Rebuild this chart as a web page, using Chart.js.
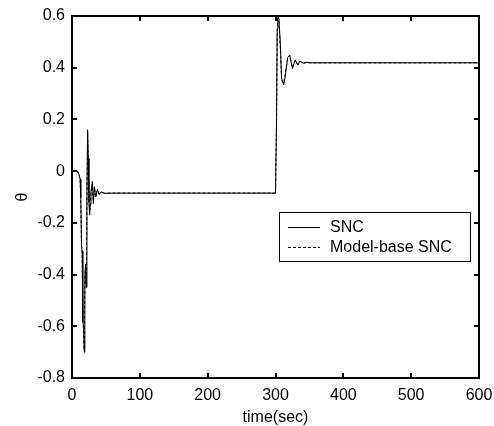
<!DOCTYPE html>
<html>
<head>
<meta charset="utf-8">
<script src="https://cdn.jsdelivr.net/npm/chart.js@4/dist/chart.umd.min.js"></script>
<style>
  html, body { margin: 0; padding: 0; background: #fff; }
  canvas { display: block; }
</style>
</head>
<body>
<canvas id="c" width="494" height="426"></canvas>
<script>
// time axis (sec) and theta response
const timeSnc = [0, 8, 10, 11, 12, 13, 14, 15, 16, 17, 18, 19, 20, 21, 22, 23, 24, 25, 26, 27, 28, 30, 31.5, 33, 35, 37.5, 40, 43, 48, 60, 150, 250, 300, 301.5, 302.5, 303.5, 305, 307, 309, 312, 314, 318, 321, 325, 329, 333, 336, 341, 346, 352, 400, 500, 600];
const thetaSnc = [0, 0, -0.01, -0.02, -0.03, -0.10, -0.29, -0.31, -0.58, -0.60, -0.70, -0.40, -0.36, -0.45, -0.10, 0.16, 0.05, -0.12, -0.17, -0.13, -0.08, -0.04, -0.125, -0.06, -0.10, -0.07, -0.09, -0.08, -0.086, -0.085, -0.085, -0.085, -0.085, 0.20, 0.55, 0.60, 0.59, 0.50, 0.36, 0.333, 0.36, 0.44, 0.449, 0.397, 0.43, 0.41, 0.426, 0.417, 0.421, 0.419, 0.419, 0.419, 0.419];

const timeModel = [0, 8, 10, 11, 12, 13, 14, 15, 16, 17, 18, 19, 20, 21, 22, 23, 24, 25, 26, 27, 28, 30, 31.5, 33, 35, 37.5, 40, 43, 48, 60, 150, 250, 300, 301.5, 302.5, 303.5, 305, 307, 309, 312, 314, 318, 321, 325, 329, 333, 336, 341, 346, 352, 400, 500, 600];
const thetaModel = [0, 0, -0.01, -0.02, -0.04, -0.12, -0.28, -0.32, -0.57, -0.62, -0.69, -0.42, -0.37, -0.44, -0.12, 0.15, 0.04, -0.11, -0.16, -0.12, -0.08, -0.05, -0.12, -0.065, -0.095, -0.075, -0.088, -0.082, -0.085, -0.085, -0.085, -0.085, -0.085, 0.18, 0.53, 0.60, 0.585, 0.48, 0.35, 0.34, 0.37, 0.44, 0.447, 0.40, 0.428, 0.412, 0.424, 0.418, 0.42, 0.419, 0.419, 0.419, 0.419];

const xTicks = [0, 100, 200, 300, 400, 500, 600];
const yTicks = [0.6, 0.4, 0.2, 0, -0.2, -0.4, -0.6, -0.8];
const seriesNames = ['SNC', 'Model-base SNC'];

const FONT = '"Liberation Sans", Arial, Helvetica, sans-serif';

function pts(t, v) { return t.map((x, i) => ({ x: x, y: v[i] })); }

// box around plot area with inward ticks on all four sides (matlab style)
const boxPlugin = {
  id: 'box',
  afterDraw(chart) {
    const ctx = chart.ctx, a = chart.chartArea;
    const xs = chart.scales.x, ys = chart.scales.y;
    ctx.save();
    ctx.strokeStyle = '#000';
    ctx.lineWidth = 2;
    ctx.strokeRect(a.left, a.top, a.right - a.left, a.bottom - a.top);
    ctx.beginPath();
    xTicks.forEach(v => {
      const p = Math.round(xs.getPixelForValue(v));
      ctx.moveTo(p, a.bottom); ctx.lineTo(p, a.bottom - 5);
      ctx.moveTo(p, a.top); ctx.lineTo(p, a.top + 5);
    });
    yTicks.forEach(v => {
      const p = Math.round(ys.getPixelForValue(v));
      ctx.moveTo(a.left, p); ctx.lineTo(a.left + 5, p);
      ctx.moveTo(a.right, p); ctx.lineTo(a.right - 5, p);
    });
    ctx.stroke();

    // legend
    const lx = a.left + 207, ly = a.top + 196, lw = 191, lh = 49;
    ctx.fillStyle = '#fff';
    ctx.fillRect(lx, ly, lw, lh);
    ctx.lineWidth = 1;
    ctx.strokeRect(lx + 0.5, ly + 0.5, lw, lh);
    ctx.font = '16px ' + FONT;
    ctx.textBaseline = 'middle';
    ctx.fillStyle = '#000';
    chart.data.datasets.forEach((ds, i) => {
      const y = Math.round(ly + 14.5 + i * 20.5) + 0.5;
      ctx.setLineDash(ds.borderDash || []);
      ctx.beginPath();
      ctx.moveTo(lx + 9, y); ctx.lineTo(lx + 41, y);
      ctx.stroke();
      ctx.setLineDash([]);
      ctx.fillText(ds.label, lx + 51, y);
    });
    ctx.restore();
  }
};

new Chart(document.getElementById('c'), {
  type: 'line',
  data: {
    datasets: [
      { label: seriesNames[0], data: pts(timeSnc, thetaSnc), borderColor: '#000', borderWidth: 1, pointRadius: 0, tension: 0 },
      { label: seriesNames[1], data: pts(timeModel, thetaModel), borderColor: '#000', borderWidth: 1, borderDash: [3, 2], pointRadius: 0, tension: 0 }
    ]
  },
  options: {
    responsive: false,
    animation: false,
    devicePixelRatio: 1,
    layout: { padding: { top: 16, right: 15, left: 0, bottom: 0 } },
    plugins: { legend: { display: false }, tooltip: { enabled: false } },
    scales: {
      x: {
        type: 'linear', min: 0, max: 600,
        afterBuildTicks: s => { s.ticks = xTicks.map(v => ({ value: v })); },
        afterFit: s => { s.height = 48; s.paddingLeft = 0; s.paddingRight = 0; },
        grid: { display: false, drawTicks: false },
        border: { display: false },
        ticks: { color: '#000', font: { family: FONT, size: 16 }, padding: 8, maxRotation: 0 },
        title: { display: true, text: 'time(sec)', color: '#000', font: { family: FONT, size: 16, lineHeight: 1.1 }, padding: { top: 0, bottom: 0 } }
      },
      y: {
        type: 'linear', min: -0.8, max: 0.6,
        afterBuildTicks: s => { s.ticks = yTicks.map(v => ({ value: v })); },
        afterFit: s => { s.width = 72; s.paddingTop = 0; s.paddingBottom = 0; },
        grid: { display: false, drawTicks: false },
        border: { display: false },
        ticks: { color: '#000', font: { family: FONT, size: 16 }, padding: 7, callback: v => String(Number(v.toFixed(1))) },
        title: { display: true, text: 'θ', color: '#000', font: { family: FONT, size: 16 }, padding: { top: 13, bottom: 0 } }
      }
    }
  },
  plugins: [boxPlugin]
});
</script>
</body>
</html>
